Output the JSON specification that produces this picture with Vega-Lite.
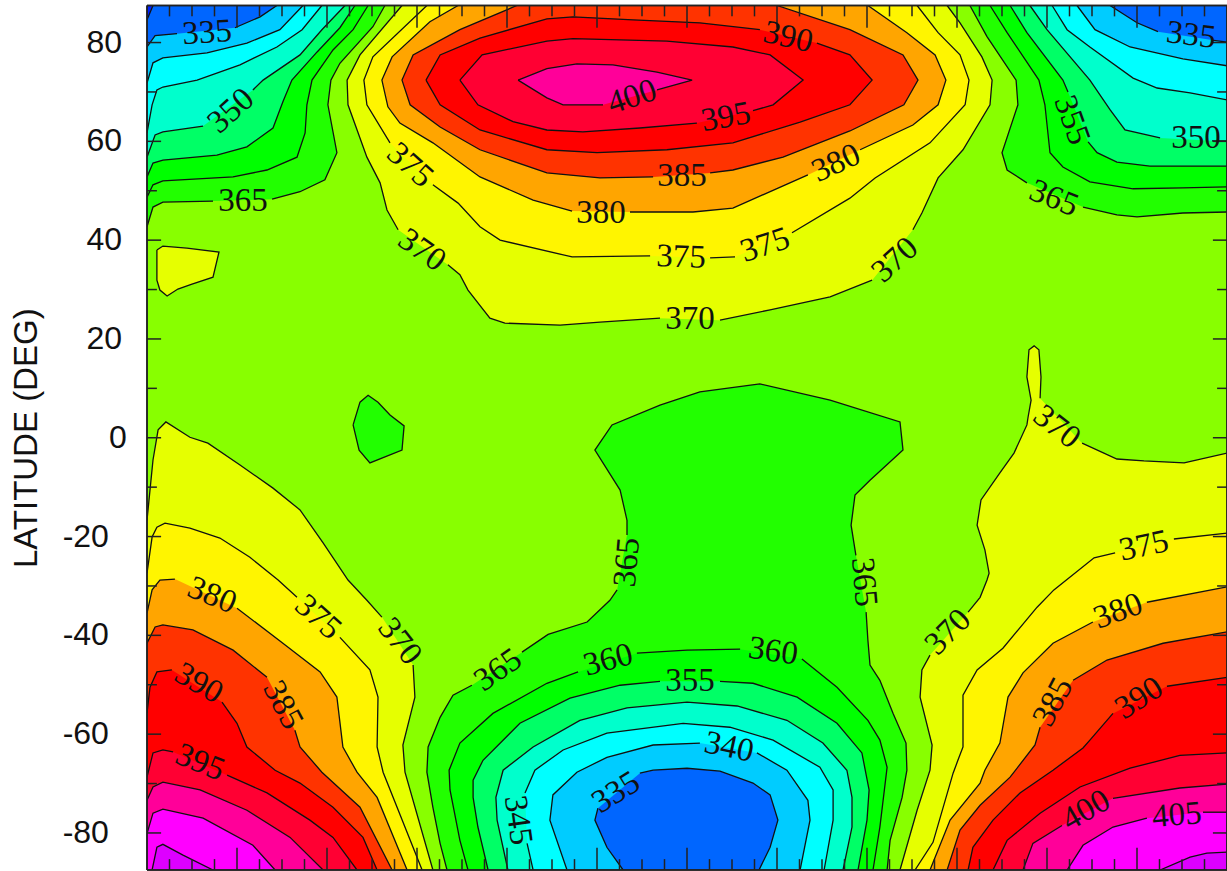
{"$schema":"https://vega.github.io/schema/vega-lite/v6.json","autosize":{"type":"none"},"padding":{"left":147,"top":5.5,"right":0,"bottom":1},"width":1080,"height":864.5,"background":"white","view":{"fill":"#88ff00","stroke":null},
"datasets":{"poly":[
{"p":"S365","s":1,"lon":100,"lat":-87.5},{"p":"S365","s":1,"lon":97.7,"lat":-82.1},{"p":"S365","s":1,"lon":95.3,"lat":-74.8},{"p":"S365","s":1,"lon":93.3,"lat":-67.7},{"p":"S365","s":1,"lon":93.7,"lat":-62.6},{"p":"S365","s":1,"lon":97.7,"lat":-56.6},{"p":"S365","s":1,"lon":102,"lat":-52.1},{"p":"S365","s":1,"lon":108.3,"lat":-50.1},
{"p":"S365","s":2,"lon":125,"lat":-43.4},{"p":"S365","s":2,"lon":133.7,"lat":-39.8},{"p":"S365","s":2,"lon":146.7,"lat":-37.3},{"p":"S365","s":2,"lon":154.3,"lat":-32.9},{"p":"S365","s":2,"lon":156.7,"lat":-30.8},
{"p":"S365","s":3,"lon":160,"lat":-19.7},{"p":"S365","s":3,"lon":160,"lat":-16.7},{"p":"S365","s":3,"lon":157.7,"lat":-10.6},{"p":"S365","s":3,"lon":149.3,"lat":-2.5},{"p":"S365","s":3,"lon":155,"lat":2.6},{"p":"S365","s":3,"lon":171,"lat":6.6},{"p":"S365","s":3,"lon":184.3,"lat":9.3},{"p":"S365","s":3,"lon":204.3,"lat":10.9},{"p":"S365","s":3,"lon":227.7,"lat":7.6},{"p":"S365","s":3,"lon":251,"lat":3.2},{"p":"S365","s":3,"lon":252,"lat":-2.5},{"p":"S365","s":3,"lon":241,"lat":-8.6},{"p":"S365","s":3,"lon":236,"lat":-11.6},{"p":"S365","s":3,"lon":234.7,"lat":-17.7},{"p":"S365","s":3,"lon":236.3,"lat":-23.8},
{"p":"S365","s":4,"lon":239.7,"lat":-35.3},{"p":"S365","s":4,"lon":240.3,"lat":-41},{"p":"S365","s":4,"lon":241,"lat":-46},{"p":"S365","s":4,"lon":244.3,"lat":-49.1},{"p":"S365","s":4,"lon":248.7,"lat":-55.8},{"p":"S365","s":4,"lon":253,"lat":-61.8},{"p":"S365","s":4,"lon":253.3,"lat":-67.3},{"p":"S365","s":4,"lon":251.7,"lat":-72.8},{"p":"S365","s":4,"lon":247.7,"lat":-81.5},{"p":"S365","s":4,"lon":246.7,"lat":-87.5},
{"p":"S360","s":5,"lon":107,"lat":-87.5},{"p":"S360","s":5,"lon":104.3,"lat":-81.5},{"p":"S360","s":5,"lon":101,"lat":-71.3},{"p":"S360","s":5,"lon":100.7,"lat":-67.3},{"p":"S360","s":5,"lon":104.3,"lat":-61.8},{"p":"S360","s":5,"lon":115.3,"lat":-55.8},{"p":"S360","s":5,"lon":133.3,"lat":-49.7},{"p":"S360","s":5,"lon":143.7,"lat":-47.4},
{"p":"S360","s":6,"lon":163.3,"lat":-43.6},{"p":"S360","s":6,"lon":180,"lat":-43},{"p":"S360","s":6,"lon":197.7,"lat":-42.8},
{"p":"S360","s":7,"lon":218.3,"lat":-44.8},{"p":"S360","s":7,"lon":230,"lat":-50.5},{"p":"S360","s":7,"lon":240.3,"lat":-57.2},{"p":"S360","s":7,"lon":244.3,"lat":-61.2},{"p":"S360","s":7,"lon":246.7,"lat":-66.7},{"p":"S360","s":7,"lon":244.3,"lat":-78.8},{"p":"S360","s":7,"lon":242,"lat":-87.5},
{"p":"S355","s":8,"lon":113.7,"lat":-87.5},{"p":"S355","s":8,"lon":110.3,"lat":-78.8},{"p":"S355","s":8,"lon":108.7,"lat":-72.8},{"p":"S355","s":8,"lon":108.7,"lat":-69.3},{"p":"S355","s":8,"lon":112,"lat":-65.3},{"p":"S355","s":8,"lon":124.3,"lat":-57.8},{"p":"S355","s":8,"lon":141,"lat":-52.7},{"p":"S355","s":8,"lon":157.7,"lat":-50.1},{"p":"S355","s":8,"lon":171,"lat":-49.3},
{"p":"S355","s":9,"lon":191,"lat":-49.3},{"p":"S355","s":9,"lon":202,"lat":-49.7},{"p":"S355","s":9,"lon":216.7,"lat":-52.5},{"p":"S355","s":9,"lon":230,"lat":-57.8},{"p":"S355","s":9,"lon":238.3,"lat":-63.8},{"p":"S355","s":9,"lon":240.7,"lat":-71.3},{"p":"S355","s":9,"lon":240,"lat":-77.4},{"p":"S355","s":9,"lon":237,"lat":-87.5},
{"p":"S350","s":10,"lon":120.3,"lat":-87.5},{"p":"S350","s":10,"lon":116.7,"lat":-77.4},{"p":"S350","s":10,"lon":116.3,"lat":-72.8},{"p":"S350","s":10,"lon":118.7,"lat":-67.3},{"p":"S350","s":10,"lon":128.7,"lat":-62.6},{"p":"S350","s":10,"lon":144.3,"lat":-57.2},{"p":"S350","s":10,"lon":160,"lat":-54.7},{"p":"S350","s":10,"lon":180,"lat":-53.5},{"p":"S350","s":10,"lon":196.7,"lat":-54.3},{"p":"S350","s":10,"lon":213.3,"lat":-57.2},{"p":"S350","s":10,"lon":225.3,"lat":-61.8},{"p":"S350","s":10,"lon":233.3,"lat":-67.3},{"p":"S350","s":10,"lon":235,"lat":-72.8},{"p":"S350","s":10,"lon":235,"lat":-78.8},{"p":"S350","s":10,"lon":232,"lat":-87.5},
{"p":"S345","s":11,"lon":128.7,"lat":-87.5},{"p":"S345","s":11,"lon":126.7,"lat":-82.1},
{"p":"S345","s":12,"lon":126,"lat":-71.9},{"p":"S345","s":12,"lon":129.3,"lat":-67.3},{"p":"S345","s":12,"lon":138.7,"lat":-63.2},{"p":"S345","s":12,"lon":153.3,"lat":-59.8},{"p":"S345","s":12,"lon":178.7,"lat":-57.8},{"p":"S345","s":12,"lon":194.3,"lat":-58.6},{"p":"S345","s":12,"lon":208.7,"lat":-61.2},{"p":"S345","s":12,"lon":224.3,"lat":-66.7},{"p":"S345","s":12,"lon":228.7,"lat":-71.3},{"p":"S345","s":12,"lon":228.7,"lat":-77.4},{"p":"S345","s":12,"lon":225.7,"lat":-87.5},
{"p":"S340","s":13,"lon":140,"lat":-87.5},{"p":"S340","s":13,"lon":134.3,"lat":-77.4},{"p":"S340","s":13,"lon":135.3,"lat":-72.3},{"p":"S340","s":13,"lon":143.3,"lat":-67.7},{"p":"S340","s":13,"lon":153.3,"lat":-64.7},{"p":"S340","s":13,"lon":168.7,"lat":-62.2},{"p":"S340","s":13,"lon":184.3,"lat":-61.8},
{"p":"S340","s":14,"lon":203.3,"lat":-63.8},{"p":"S340","s":14,"lon":213.3,"lat":-67.3},{"p":"S340","s":14,"lon":220.3,"lat":-73.4},{"p":"S340","s":14,"lon":221,"lat":-77.4},{"p":"S340","s":14,"lon":217.7,"lat":-87.5},
{"p":"S335","s":15,"lon":158.7,"lat":-87.5},{"p":"S335","s":15,"lon":153.3,"lat":-82.9},{"p":"S335","s":15,"lon":149.3,"lat":-77.4},{"p":"S335","s":15,"lon":150.3,"lat":-75},
{"p":"S335","s":16,"lon":164.3,"lat":-67.9},{"p":"S335","s":16,"lon":168.7,"lat":-67.3},{"p":"S335","s":16,"lon":180,"lat":-66.9},{"p":"S335","s":16,"lon":191,"lat":-67.5},{"p":"S335","s":16,"lon":202,"lat":-69.9},{"p":"S335","s":16,"lon":207.7,"lat":-72.3},{"p":"S335","s":16,"lon":210.3,"lat":-77.4},{"p":"S335","s":16,"lon":207.7,"lat":-82.9},{"p":"S335","s":16,"lon":204,"lat":-87.5},
{"p":"BG","s":17,"lon":68.7,"lat":2.6},{"p":"BG","s":17,"lon":71,"lat":7.2},{"p":"BG","s":17,"lon":73.7,"lat":8.6},{"p":"BG","s":17,"lon":77,"lat":7.2},{"p":"BG","s":17,"lon":81,"lat":4.6},{"p":"BG","s":17,"lon":85.7,"lat":2.4},{"p":"BG","s":17,"lon":85,"lat":-2.5},{"p":"BG","s":17,"lon":74.3,"lat":-5.1},{"p":"BG","s":17,"lon":70.7,"lat":-2.5},{"p":"BG","s":17,"lon":68.7,"lat":2.6},
{"p":"BY","s":18,"lon":3.3,"lat":38},{"p":"BY","s":18,"lon":5.3,"lat":38.8},{"p":"BY","s":18,"lon":13.3,"lat":38.4},{"p":"BY","s":18,"lon":24,"lat":37.6},{"p":"BY","s":18,"lon":22,"lat":32.5},{"p":"BY","s":18,"lon":15,"lat":31.1},{"p":"BY","s":18,"lon":10.3,"lat":30.1},{"p":"BY","s":18,"lon":6.7,"lat":28.7},{"p":"BY","s":18,"lon":4.3,"lat":29.9},{"p":"BY","s":18,"lon":3.3,"lat":31.9},{"p":"BY","s":18,"lon":3.3,"lat":38},
{"p":"SW370","s":19,"lon":0,"lat":-16.7},{"p":"SW370","s":19,"lon":2,"lat":-4.5},{"p":"SW370","s":19,"lon":3.7,"lat":1.6},{"p":"SW370","s":19,"lon":6.3,"lat":3.2},{"p":"SW370","s":19,"lon":14.3,"lat":0.1},{"p":"SW370","s":19,"lon":20.3,"lat":-1.1},{"p":"SW370","s":19,"lon":31,"lat":-5.5},{"p":"SW370","s":19,"lon":42,"lat":-10.2},{"p":"SW370","s":19,"lon":51,"lat":-14.6},{"p":"SW370","s":19,"lon":58.7,"lat":-21.3},{"p":"SW370","s":19,"lon":67,"lat":-28.8},{"p":"SW370","s":19,"lon":73.3,"lat":-32.9},{"p":"SW370","s":19,"lon":78.3,"lat":-36.3},
{"p":"SW370","s":20,"lon":88.7,"lat":-46},{"p":"SW370","s":20,"lon":89.3,"lat":-52.5},{"p":"SW370","s":20,"lon":85.3,"lat":-62.2},{"p":"SW370","s":20,"lon":86,"lat":-67.7},{"p":"SW370","s":20,"lon":95.3,"lat":-87.5},{"p":"SW370","lon":0,"lat":-87.5},
{"p":"SW375","s":21,"lon":0,"lat":-27.4},{"p":"SW375","s":21,"lon":1.7,"lat":-20.1},{"p":"SW375","s":21,"lon":3.3,"lat":-18.1},{"p":"SW375","s":21,"lon":6,"lat":-17.3},{"p":"SW375","s":21,"lon":14.3,"lat":-18.3},{"p":"SW375","s":21,"lon":24.3,"lat":-20.3},{"p":"SW375","s":21,"lon":34.3,"lat":-24.2},{"p":"SW375","s":21,"lon":43.7,"lat":-28.8},{"p":"SW375","s":21,"lon":50,"lat":-32.3},
{"p":"SW375","s":22,"lon":64.3,"lat":-40.4},{"p":"SW375","s":22,"lon":74.3,"lat":-47},{"p":"SW375","s":22,"lon":77,"lat":-52.5},{"p":"SW375","s":22,"lon":76.7,"lat":-62.6},{"p":"SW375","s":22,"lon":78.7,"lat":-67.7},{"p":"SW375","s":22,"lon":91.7,"lat":-87.5},{"p":"SW375","lon":0,"lat":-87.5},
{"p":"SW380","s":23,"lon":0,"lat":-35.5},{"p":"SW380","s":23,"lon":1.7,"lat":-30.8},{"p":"SW380","s":23,"lon":4.3,"lat":-28.8},{"p":"SW380","s":23,"lon":9.3,"lat":-28.6},
{"p":"SW380","s":24,"lon":30,"lat":-34.5},{"p":"SW380","s":24,"lon":45.3,"lat":-41.6},{"p":"SW380","s":24,"lon":57.7,"lat":-47.4},{"p":"SW380","s":24,"lon":63.3,"lat":-52.5},{"p":"SW380","s":24,"lon":65.3,"lat":-62.6},{"p":"SW380","s":24,"lon":70,"lat":-67.7},{"p":"SW380","s":24,"lon":76.7,"lat":-72.8},{"p":"SW380","s":24,"lon":86.7,"lat":-87.5},{"p":"SW380","lon":0,"lat":-87.5},
{"p":"SW385","s":25,"lon":0,"lat":-41.6},{"p":"SW385","s":25,"lon":2.7,"lat":-38.3},{"p":"SW385","s":25,"lon":5.3,"lat":-37.9},{"p":"SW385","s":25,"lon":15.3,"lat":-38.9},{"p":"SW385","s":25,"lon":28.7,"lat":-43},{"p":"SW385","s":25,"lon":40,"lat":-48.5},
{"p":"SW385","s":26,"lon":49.3,"lat":-59.2},{"p":"SW385","s":26,"lon":51,"lat":-62.6},{"p":"SW385","s":26,"lon":58.3,"lat":-67.7},{"p":"SW385","s":26,"lon":71,"lat":-74.8},{"p":"SW385","s":26,"lon":81.7,"lat":-87.5},{"p":"SW385","lon":0,"lat":-87.5},
{"p":"SW390","s":27,"lon":0,"lat":-55.7},{"p":"SW390","s":27,"lon":1,"lat":-50.5},{"p":"SW390","s":27,"lon":3.3,"lat":-47.4},{"p":"SW390","s":27,"lon":8.3,"lat":-47},
{"p":"SW390","s":28,"lon":25,"lat":-53.5},{"p":"SW390","s":28,"lon":30,"lat":-57.8},{"p":"SW390","s":28,"lon":33.3,"lat":-62.6},{"p":"SW390","s":28,"lon":42.7,"lat":-67.3},{"p":"SW390","s":28,"lon":51,"lat":-69.9},{"p":"SW390","s":28,"lon":62,"lat":-74.8},{"p":"SW390","s":28,"lon":72,"lat":-80.9},{"p":"SW390","s":28,"lon":76.7,"lat":-87.5},{"p":"SW390","lon":0,"lat":-87.5},
{"p":"SW395","s":29,"lon":0,"lat":-68.7},{"p":"SW395","s":29,"lon":2,"lat":-63.8},{"p":"SW395","s":29,"lon":5.3,"lat":-63.2},{"p":"SW395","s":29,"lon":8.7,"lat":-63.6},
{"p":"SW395","s":30,"lon":26.7,"lat":-68.3},{"p":"SW395","s":30,"lon":40,"lat":-71.9},{"p":"SW395","s":30,"lon":54.3,"lat":-77.4},{"p":"SW395","s":30,"lon":62,"lat":-80.9},{"p":"SW395","s":30,"lon":70,"lat":-87.5},{"p":"SW395","lon":0,"lat":-87.5},
{"p":"SW400","s":31,"lon":0,"lat":-73.4},{"p":"SW400","s":31,"lon":2,"lat":-70.7},{"p":"SW400","s":31,"lon":5.3,"lat":-69.7},{"p":"SW400","s":31,"lon":17.7,"lat":-71.3},{"p":"SW400","s":31,"lon":33.3,"lat":-75.4},{"p":"SW400","s":31,"lon":47.7,"lat":-80.9},{"p":"SW400","s":31,"lon":58.7,"lat":-87.5},{"p":"SW400","lon":0,"lat":-87.5},
{"p":"SW405","s":32,"lon":0,"lat":-80.1},{"p":"SW405","s":32,"lon":2,"lat":-76},{"p":"SW405","s":32,"lon":5.3,"lat":-75.2},{"p":"SW405","s":32,"lon":18.7,"lat":-77},{"p":"SW405","s":32,"lon":35.3,"lat":-82.5},{"p":"SW405","s":32,"lon":42.7,"lat":-87.5},{"p":"SW405","lon":0,"lat":-87.5},
{"p":"SW410","s":33,"lon":1.7,"lat":-87.5},{"p":"SW410","s":33,"lon":3.3,"lat":-82.9},{"p":"SW410","s":33,"lon":5.3,"lat":-82.3},{"p":"SW410","s":33,"lon":12,"lat":-84.5},{"p":"SW410","s":33,"lon":22,"lat":-87.5},
{"p":"SE370","s":34,"lon":251,"lat":-87.5},{"p":"SE370","s":34,"lon":256.7,"lat":-75.4},{"p":"SE370","s":34,"lon":261,"lat":-67.3},{"p":"SE370","s":34,"lon":261.7,"lat":-62.2},{"p":"SE370","s":34,"lon":257.7,"lat":-52.5},{"p":"SE370","s":34,"lon":258.3,"lat":-47},{"p":"SE370","s":34,"lon":261,"lat":-44},
{"p":"SE370","s":35,"lon":273.7,"lat":-35.3},{"p":"SE370","s":35,"lon":277.7,"lat":-32.3},{"p":"SE370","s":35,"lon":280,"lat":-28.8},{"p":"SE370","s":35,"lon":280.7,"lat":-27.4},{"p":"SE370","s":35,"lon":279.3,"lat":-22.7},{"p":"SE370","s":35,"lon":276.7,"lat":-17.7},{"p":"SE370","s":35,"lon":278,"lat":-12.6},{"p":"SE370","s":35,"lon":284.3,"lat":-7.1},{"p":"SE370","s":35,"lon":289,"lat":-3.1},{"p":"SE370","s":35,"lon":293.3,"lat":2.6},{"p":"SE370","s":35,"lon":293.7,"lat":4.2},{"p":"SE370","s":35,"lon":294.7,"lat":7.6},{"p":"SE370","s":35,"lon":293.3,"lat":12.3},{"p":"SE370","s":35,"lon":294,"lat":17.8},{"p":"SE370","s":35,"lon":295.7,"lat":18.6},{"p":"SE370","s":35,"lon":297.3,"lat":17.8},{"p":"SE370","s":35,"lon":298,"lat":12.3},{"p":"SE370","s":35,"lon":297.7,"lat":8},
{"p":"SE370","s":36,"lon":311.7,"lat":-1.1},{"p":"SE370","s":36,"lon":323.3,"lat":-4.3},{"p":"SE370","s":36,"lon":332.3,"lat":-4.7},{"p":"SE370","s":36,"lon":345.7,"lat":-5.1},{"p":"SE370","s":36,"lon":360,"lat":-3.1},{"p":"SE370","lon":360,"lat":-87.5},
{"p":"SE375","s":37,"lon":256,"lat":-87.5},{"p":"SE375","s":37,"lon":262,"lat":-81.9},{"p":"SE375","s":37,"lon":268.7,"lat":-67.9},{"p":"SE375","s":37,"lon":270.3,"lat":-65.3},{"p":"SE375","s":37,"lon":272,"lat":-62.6},{"p":"SE375","s":37,"lon":272,"lat":-52.1},{"p":"SE375","s":37,"lon":276.7,"lat":-47},{"p":"SE375","s":37,"lon":285.3,"lat":-42.6},{"p":"SE375","s":37,"lon":296.7,"lat":-34.3},{"p":"SE375","s":37,"lon":302.3,"lat":-30.8},{"p":"SE375","s":37,"lon":315.7,"lat":-24.3},{"p":"SE375","s":37,"lon":322.7,"lat":-23.3},
{"p":"SE375","s":38,"lon":342.3,"lat":-20.5},{"p":"SE375","s":38,"lon":360,"lat":-19.3},{"p":"SE375","lon":360,"lat":-87.5},
{"p":"SE380","s":39,"lon":261,"lat":-87.5},{"p":"SE380","s":39,"lon":267.7,"lat":-77.4},{"p":"SE380","s":39,"lon":277.7,"lat":-69.9},{"p":"SE380","s":39,"lon":279.3,"lat":-67.3},{"p":"SE380","s":39,"lon":284.3,"lat":-61.8},{"p":"SE380","s":39,"lon":287,"lat":-52.5},{"p":"SE380","s":39,"lon":292,"lat":-47.6},{"p":"SE380","s":39,"lon":302,"lat":-41.6},{"p":"SE380","s":39,"lon":315.3,"lat":-37.3},
{"p":"SE380","s":40,"lon":333.3,"lat":-33.3},{"p":"SE380","s":40,"lon":360,"lat":-30.2},{"p":"SE380","lon":360,"lat":-87.5},
{"p":"SE385","s":41,"lon":266.7,"lat":-87.5},{"p":"SE385","s":41,"lon":271,"lat":-79.4},{"p":"SE385","s":41,"lon":277.7,"lat":-74.4},{"p":"SE385","s":41,"lon":287.7,"lat":-68.7},{"p":"SE385","s":41,"lon":296,"lat":-62.2},{"p":"SE385","s":41,"lon":297.7,"lat":-58.6},
{"p":"SE385","s":42,"lon":308.7,"lat":-49.1},{"p":"SE385","s":42,"lon":320,"lat":-45},{"p":"SE385","s":42,"lon":338.7,"lat":-41.6},{"p":"SE385","s":42,"lon":360,"lat":-39.3},{"p":"SE385","lon":360,"lat":-87.5},
{"p":"SE390","s":43,"lon":273.7,"lat":-87.5},{"p":"SE390","s":43,"lon":275.3,"lat":-82.9},{"p":"SE390","s":43,"lon":282,"lat":-77.4},{"p":"SE390","s":43,"lon":291,"lat":-71.9},{"p":"SE390","s":43,"lon":302,"lat":-67.3},{"p":"SE390","s":43,"lon":312,"lat":-62.8},{"p":"SE390","s":43,"lon":314.3,"lat":-61.2},{"p":"SE390","s":43,"lon":322,"lat":-55.8},
{"p":"SE390","s":44,"lon":340,"lat":-50.3},{"p":"SE390","s":44,"lon":360,"lat":-48.5},{"p":"SE390","lon":360,"lat":-87.5},
{"p":"SE395","s":45,"lon":282,"lat":-87.5},{"p":"SE395","s":45,"lon":286.7,"lat":-81.5},{"p":"SE395","s":45,"lon":297.7,"lat":-76},{"p":"SE395","s":45,"lon":311,"lat":-70.7},{"p":"SE395","s":45,"lon":327.7,"lat":-66.9},{"p":"SE395","s":45,"lon":344.3,"lat":-64.3},{"p":"SE395","s":45,"lon":360,"lat":-63.8},{"p":"SE395","lon":360,"lat":-87.5},
{"p":"SE400","s":46,"lon":292,"lat":-87.5},{"p":"SE400","s":46,"lon":295.3,"lat":-82.1},{"p":"SE400","s":46,"lon":305,"lat":-78.5},
{"p":"SE400","s":47,"lon":322,"lat":-73},{"p":"SE400","s":47,"lon":344.3,"lat":-70.9},{"p":"SE400","s":47,"lon":360,"lat":-70.1},{"p":"SE400","lon":360,"lat":-87.5},
{"p":"SE405","s":48,"lon":306.7,"lat":-87.5},{"p":"SE405","s":48,"lon":312,"lat":-82.5},{"p":"SE405","s":48,"lon":322,"lat":-78.8},{"p":"SE405","s":48,"lon":333.3,"lat":-77},
{"p":"SE405","s":49,"lon":352,"lat":-75.8},{"p":"SE405","s":49,"lon":360,"lat":-75.8},{"p":"SE405","lon":360,"lat":-87.5},
{"p":"SE410","s":50,"lon":337.7,"lat":-87.5},{"p":"SE410","s":50,"lon":347.7,"lat":-84.9},{"p":"SE410","s":50,"lon":353.3,"lat":-84.1},{"p":"SE410","s":50,"lon":360,"lat":-83.9},{"p":"SE410","lon":360,"lat":-87.5},
{"p":"N370","s":51,"lon":85,"lat":87.5},{"p":"N370","s":51,"lon":71,"lat":77.5},{"p":"N370","s":51,"lon":66.7,"lat":72.4},{"p":"N370","s":51,"lon":67,"lat":67.4},{"p":"N370","s":51,"lon":73.3,"lat":56.8},{"p":"N370","s":51,"lon":77.7,"lat":51.6},{"p":"N370","s":51,"lon":80,"lat":46.1},{"p":"N370","s":51,"lon":83.7,"lat":42.1},
{"p":"N370","s":52,"lon":100.3,"lat":35},{"p":"N370","s":52,"lon":104.3,"lat":33},{"p":"N370","s":52,"lon":107,"lat":29.9},{"p":"N370","s":52,"lon":114.3,"lat":24.2},{"p":"N370","s":52,"lon":119.3,"lat":23.2},{"p":"N370","s":52,"lon":137.7,"lat":22.8},{"p":"N370","s":52,"lon":151,"lat":23.4},{"p":"N370","s":52,"lon":171,"lat":24.2},
{"p":"N370","s":53,"lon":191,"lat":23.8},{"p":"N370","s":53,"lon":207.7,"lat":25.9},{"p":"N370","s":53,"lon":227.7,"lat":28.5},{"p":"N370","s":53,"lon":241.7,"lat":31.9},
{"p":"N370","s":54,"lon":255.3,"lat":42.1},{"p":"N370","s":54,"lon":258.3,"lat":45.5},{"p":"N370","s":54,"lon":263.7,"lat":52.6},{"p":"N370","s":54,"lon":272,"lat":58.3},{"p":"N370","s":54,"lon":281,"lat":67.4},{"p":"N370","s":54,"lon":281.7,"lat":72.4},{"p":"N370","s":54,"lon":278.3,"lat":77.1},{"p":"N370","s":54,"lon":271,"lat":84},{"p":"N370","s":54,"lon":266.7,"lat":87.5},
{"p":"N375","s":55,"lon":93.3,"lat":87.5},{"p":"N375","s":55,"lon":75.3,"lat":77.1},{"p":"N375","s":55,"lon":72.3,"lat":72.4},{"p":"N375","s":55,"lon":73.3,"lat":67.4},{"p":"N375","s":55,"lon":81,"lat":59.7},
{"p":"N375","s":56,"lon":95.3,"lat":51.2},{"p":"N375","s":56,"lon":103.7,"lat":47.5},{"p":"N375","s":56,"lon":111,"lat":42.7},{"p":"N375","s":56,"lon":117.7,"lat":40},{"p":"N375","s":56,"lon":141.7,"lat":36.6},{"p":"N375","s":56,"lon":167.7,"lat":36.8},
{"p":"N375","s":57,"lon":187.7,"lat":36.4},{"p":"N375","s":57,"lon":196,"lat":36.6},
{"p":"N375","s":58,"lon":215,"lat":41.5},{"p":"N375","s":58,"lon":234.3,"lat":48.5},{"p":"N375","s":58,"lon":242.7,"lat":52.6},{"p":"N375","s":58,"lon":261,"lat":59.7},{"p":"N375","s":58,"lon":272.7,"lat":67.4},{"p":"N375","s":58,"lon":274,"lat":72.4},{"p":"N375","s":58,"lon":271,"lat":77.5},{"p":"N375","s":58,"lon":263.7,"lat":82},{"p":"N375","s":58,"lon":256.7,"lat":87.5},
{"p":"N380","s":59,"lon":103.7,"lat":87.5},{"p":"N380","s":59,"lon":94.3,"lat":84.2},{"p":"N380","s":59,"lon":81.7,"lat":77.1},{"p":"N380","s":59,"lon":78.3,"lat":72.4},{"p":"N380","s":59,"lon":80.3,"lat":67},{"p":"N380","s":59,"lon":84.3,"lat":63.7},{"p":"N380","s":59,"lon":95.3,"lat":59.7},{"p":"N380","s":59,"lon":111,"lat":52.8},{"p":"N380","s":59,"lon":128.7,"lat":48.1},{"p":"N380","s":59,"lon":141.7,"lat":45.9},
{"p":"N380","s":60,"lon":161,"lat":45.7},{"p":"N380","s":60,"lon":182,"lat":45.7},{"p":"N380","s":60,"lon":195.3,"lat":46.5},{"p":"N380","s":60,"lon":220.3,"lat":53.2},
{"p":"N380","s":61,"lon":237.7,"lat":58.3},{"p":"N380","s":61,"lon":255.3,"lat":63.3},{"p":"N380","s":61,"lon":263.7,"lat":67.4},{"p":"N380","s":61,"lon":266.3,"lat":72.4},{"p":"N380","s":61,"lon":262.7,"lat":77.5},{"p":"N380","s":61,"lon":253.3,"lat":82},{"p":"N380","s":61,"lon":240.3,"lat":87.5},
{"p":"N385","s":62,"lon":123.3,"lat":87.5},{"p":"N385","s":62,"lon":104.3,"lat":82.6},{"p":"N385","s":62,"lon":88.7,"lat":77.5},{"p":"N385","s":62,"lon":85,"lat":72.4},{"p":"N385","s":62,"lon":87.7,"lat":67.4},{"p":"N385","s":62,"lon":97.7,"lat":62.9},{"p":"N385","s":62,"lon":111,"lat":58.3},{"p":"N385","s":62,"lon":133.3,"lat":53.6},{"p":"N385","s":62,"lon":151,"lat":52.6},{"p":"N385","s":62,"lon":168.7,"lat":52.8},
{"p":"N385","s":63,"lon":187.7,"lat":53.6},{"p":"N385","s":63,"lon":195.3,"lat":54.2},{"p":"N385","s":63,"lon":212,"lat":56.8},{"p":"N385","s":63,"lon":234.3,"lat":62.1},{"p":"N385","s":63,"lon":252.3,"lat":67.4},{"p":"N385","s":63,"lon":257,"lat":72.4},{"p":"N385","s":63,"lon":252,"lat":77.5},{"p":"N385","s":63,"lon":234.3,"lat":82.6},{"p":"N385","s":63,"lon":210,"lat":87.5},
{"p":"N390","s":64,"lon":93,"lat":72.4},{"p":"N390","s":64,"lon":97.7,"lat":77.5},{"p":"N390","s":64,"lon":111,"lat":80.9},{"p":"N390","s":64,"lon":133.3,"lat":84.8},{"p":"N390","s":64,"lon":142,"lat":85.2},{"p":"N390","s":64,"lon":162,"lat":84.6},{"p":"N390","s":64,"lon":184.3,"lat":84},{"p":"N390","s":64,"lon":204.3,"lat":82.6},
{"p":"N390","s":65,"lon":223.3,"lat":79.9},{"p":"N390","s":65,"lon":234.3,"lat":77.5},{"p":"N390","s":65,"lon":241.7,"lat":72.4},{"p":"N390","s":65,"lon":234.3,"lat":67.4},{"p":"N390","s":65,"lon":217.7,"lat":63.9},{"p":"N390","s":65,"lon":195.3,"lat":59.7},{"p":"N390","s":65,"lon":173.3,"lat":58.3},{"p":"N390","s":65,"lon":150,"lat":57.7},{"p":"N390","s":65,"lon":133.3,"lat":58.3},{"p":"N390","s":65,"lon":111,"lat":62.3},{"p":"N390","s":65,"lon":97.7,"lat":67.4},{"p":"N390","s":65,"lon":93,"lat":72.4},
{"p":"N395","s":66,"lon":104.3,"lat":72.4},{"p":"N395","s":66,"lon":111.7,"lat":77.5},{"p":"N395","s":66,"lon":133.3,"lat":80.3},{"p":"N395","s":66,"lon":142,"lat":80.8},{"p":"N395","s":66,"lon":173.3,"lat":80.3},{"p":"N395","s":66,"lon":195.3,"lat":79.1},{"p":"N395","s":66,"lon":207.7,"lat":77.5},{"p":"N395","s":66,"lon":218.7,"lat":72.4},{"p":"N395","s":66,"lon":208.7,"lat":67.4},{"p":"N395","s":66,"lon":202,"lat":66.2},
{"p":"N395","s":67,"lon":183.3,"lat":63.7},{"p":"N395","s":67,"lon":164.3,"lat":62.7},{"p":"N395","s":67,"lon":145.3,"lat":61.9},{"p":"N395","s":67,"lon":133.3,"lat":62.3},{"p":"N395","s":67,"lon":122,"lat":64},{"p":"N395","s":67,"lon":110.3,"lat":67.4},{"p":"N395","s":67,"lon":104.3,"lat":72.4},
{"p":"N400","s":68,"lon":123.7,"lat":72.4},{"p":"N400","s":68,"lon":133.3,"lat":74.7},{"p":"N400","s":68,"lon":143.3,"lat":75.7},{"p":"N400","s":68,"lon":155.3,"lat":75.5},{"p":"N400","s":68,"lon":170,"lat":74},{"p":"N400","s":68,"lon":181.7,"lat":72.4},{"p":"N400","s":68,"lon":170,"lat":70.4},
{"p":"N400","s":69,"lon":152,"lat":67.4},{"p":"N400","s":69,"lon":138.7,"lat":67.4},{"p":"N400","s":69,"lon":133.3,"lat":68.8},{"p":"N400","s":69,"lon":123.7,"lat":72.4},
{"p":"NW365","s":70,"lon":0,"lat":42.7},{"p":"NW365","s":70,"lon":2,"lat":46.7},{"p":"NW365","s":70,"lon":5.3,"lat":47.7},{"p":"NW365","s":70,"lon":22,"lat":47.9},
{"p":"NW365","s":71,"lon":41.7,"lat":48.3},{"p":"NW365","s":71,"lon":51,"lat":49.8},{"p":"NW365","s":71,"lon":59.3,"lat":52.2},{"p":"NW365","s":71,"lon":63.3,"lat":57.7},{"p":"NW365","s":71,"lon":60.3,"lat":67.4},{"p":"NW365","s":71,"lon":61.3,"lat":72.4},{"p":"NW365","s":71,"lon":64.3,"lat":75.8},{"p":"NW365","s":71,"lon":75.3,"lat":83.2},{"p":"NW365","s":71,"lon":79.3,"lat":87.5},{"p":"NW365","lon":0,"lat":87.5},
{"p":"NW360","s":72,"lon":0,"lat":48.7},{"p":"NW360","s":72,"lon":2,"lat":51.2},{"p":"NW360","s":72,"lon":5.3,"lat":52},{"p":"NW360","s":72,"lon":28.7,"lat":52.8},{"p":"NW360","s":72,"lon":40,"lat":54.2},{"p":"NW360","s":72,"lon":50,"lat":56.8},{"p":"NW360","s":72,"lon":52.7,"lat":61.7},{"p":"NW360","s":72,"lon":53.3,"lat":67.4},{"p":"NW360","s":72,"lon":55,"lat":72.4},{"p":"NW360","s":72,"lon":62,"lat":78.5},{"p":"NW360","s":72,"lon":68.7,"lat":82.6},{"p":"NW360","s":72,"lon":73.7,"lat":87.5},{"p":"NW360","lon":0,"lat":87.5},
{"p":"NW355","s":73,"lon":0,"lat":52.8},{"p":"NW355","s":73,"lon":2,"lat":55.6},{"p":"NW355","s":73,"lon":5.3,"lat":56.2},{"p":"NW355","s":73,"lon":23.3,"lat":57.2},{"p":"NW355","s":73,"lon":33.3,"lat":58.9},{"p":"NW355","s":73,"lon":42,"lat":62.7},{"p":"NW355","s":73,"lon":45.3,"lat":68},{"p":"NW355","s":73,"lon":48.3,"lat":72.4},{"p":"NW355","s":73,"lon":56.7,"lat":78.1},{"p":"NW355","s":73,"lon":64.3,"lat":83},{"p":"NW355","s":73,"lon":69.3,"lat":87.5},{"p":"NW355","lon":0,"lat":87.5},
{"p":"NW350","s":74,"lon":0,"lat":56.8},{"p":"NW350","s":74,"lon":2.7,"lat":61.3},{"p":"NW350","s":74,"lon":5.3,"lat":61.9},{"p":"NW350","s":74,"lon":18.7,"lat":63.1},
{"p":"NW350","s":75,"lon":35.3,"lat":70.4},{"p":"NW350","s":75,"lon":38.7,"lat":72.4},{"p":"NW350","s":75,"lon":51,"lat":77.5},{"p":"NW350","s":75,"lon":58.3,"lat":82.6},{"p":"NW350","s":75,"lon":66,"lat":87.5},{"p":"NW350","lon":0,"lat":87.5},
{"p":"NW345","s":76,"lon":0,"lat":61.7},{"p":"NW345","s":76,"lon":1.7,"lat":67.4},{"p":"NW345","s":76,"lon":3.3,"lat":70.4},{"p":"NW345","s":76,"lon":5.3,"lat":71},{"p":"NW345","s":76,"lon":16.7,"lat":72.4},{"p":"NW345","s":76,"lon":31,"lat":75.5},{"p":"NW345","s":76,"lon":43.3,"lat":79.1},{"p":"NW345","s":76,"lon":51.7,"lat":82.6},{"p":"NW345","s":76,"lon":58.3,"lat":87.5},{"p":"NW345","lon":0,"lat":87.5},
{"p":"NW340","s":77,"lon":0,"lat":71.8},{"p":"NW340","s":77,"lon":2,"lat":75.9},{"p":"NW340","s":77,"lon":5.3,"lat":76.9},{"p":"NW340","s":77,"lon":20,"lat":77.9},{"p":"NW340","s":77,"lon":33.3,"lat":79.9},{"p":"NW340","s":77,"lon":44.3,"lat":82.6},{"p":"NW340","s":77,"lon":52,"lat":87.5},{"p":"NW340","lon":0,"lat":87.5},
{"p":"NW335","s":78,"lon":0,"lat":79.1},{"p":"NW335","s":78,"lon":2.7,"lat":81.4},{"p":"NW335","s":78,"lon":10,"lat":81.8},
{"p":"NW335","s":79,"lon":29.3,"lat":83},{"p":"NW335","s":79,"lon":37.7,"lat":85.2},{"p":"NW335","s":79,"lon":43.3,"lat":87.5},{"p":"NW335","lon":0,"lat":87.5},
{"p":"NW330","s":80,"lon":0,"lat":84.6},{"p":"NW330","s":80,"lon":2,"lat":87.5},{"p":"NW330","lon":0,"lat":87.5},
{"p":"NE365","s":81,"lon":274.3,"lat":87.5},{"p":"NE365","s":81,"lon":280,"lat":81.2},{"p":"NE365","s":81,"lon":289.7,"lat":72.4},{"p":"NE365","s":81,"lon":290.3,"lat":67.4},{"p":"NE365","s":81,"lon":285,"lat":57.7},{"p":"NE365","s":81,"lon":286.7,"lat":54.2},{"p":"NE365","s":81,"lon":293.3,"lat":51.6},
{"p":"NE365","s":82,"lon":312,"lat":46.7},{"p":"NE365","s":82,"lon":323.3,"lat":45.1},{"p":"NE365","s":82,"lon":330,"lat":44.7},{"p":"NE365","s":82,"lon":345.3,"lat":45.5},{"p":"NE365","s":82,"lon":360,"lat":45.7},{"p":"NE365","lon":360,"lat":87.5},
{"p":"NE360","s":83,"lon":281,"lat":87.5},{"p":"NE360","s":83,"lon":286.7,"lat":82},{"p":"NE360","s":83,"lon":297.3,"lat":72.4},{"p":"NE360","s":83,"lon":299.3,"lat":67.4},{"p":"NE360","s":83,"lon":301,"lat":57.7},{"p":"NE360","s":83,"lon":305.3,"lat":54.8},{"p":"NE360","s":83,"lon":314.3,"lat":51.8},{"p":"NE360","s":83,"lon":328.7,"lat":50.4},{"p":"NE360","s":83,"lon":345.3,"lat":50.6},{"p":"NE360","s":83,"lon":360,"lat":50.8},{"p":"NE360","lon":360,"lat":87.5},
{"p":"NE355","s":84,"lon":287.7,"lat":87.5},{"p":"NE355","s":84,"lon":293.3,"lat":82},{"p":"NE355","s":84,"lon":305.3,"lat":72.4},{"p":"NE355","s":84,"lon":307,"lat":70},
{"p":"NE355","s":85,"lon":313.7,"lat":59.9},{"p":"NE355","s":85,"lon":316.7,"lat":57.7},{"p":"NE355","s":85,"lon":323.3,"lat":55.8},{"p":"NE355","s":85,"lon":334.3,"lat":55},{"p":"NE355","s":85,"lon":345.3,"lat":55},{"p":"NE355","s":85,"lon":360,"lat":55},{"p":"NE355","lon":360,"lat":87.5},
{"p":"NE350","s":86,"lon":294.3,"lat":87.5},{"p":"NE350","s":86,"lon":300,"lat":82.6},{"p":"NE350","s":86,"lon":314.3,"lat":72.4},{"p":"NE350","s":86,"lon":321,"lat":66.4},{"p":"NE350","s":86,"lon":326,"lat":62.3},{"p":"NE350","s":86,"lon":337.7,"lat":60.7},
{"p":"NE350","s":87,"lon":355,"lat":60.1},{"p":"NE350","s":87,"lon":360,"lat":60.1},{"p":"NE350","lon":360,"lat":87.5},
{"p":"NE345","s":88,"lon":301.7,"lat":87.5},{"p":"NE345","s":88,"lon":306.7,"lat":82.6},{"p":"NE345","s":88,"lon":314.3,"lat":79.1},{"p":"NE345","s":88,"lon":328.7,"lat":72.8},{"p":"NE345","s":88,"lon":336.7,"lat":70.8},{"p":"NE345","s":88,"lon":347.7,"lat":69.8},{"p":"NE345","s":88,"lon":360,"lat":68.4},{"p":"NE345","lon":360,"lat":87.5},
{"p":"NE340","s":89,"lon":310,"lat":87.5},{"p":"NE340","s":89,"lon":316,"lat":82.6},{"p":"NE340","s":89,"lon":327.7,"lat":79.1},{"p":"NE340","s":89,"lon":345.3,"lat":76.7},{"p":"NE340","s":89,"lon":360,"lat":75.3},{"p":"NE340","lon":360,"lat":87.5},
{"p":"NE335","s":90,"lon":321,"lat":87.5},{"p":"NE335","s":90,"lon":330,"lat":84},{"p":"NE335","s":90,"lon":337,"lat":82.2},
{"p":"NE335","s":91,"lon":355,"lat":80.5},{"p":"NE335","s":91,"lon":360,"lat":80.1},{"p":"NE335","lon":360,"lat":87.5}
],
"labels":[
{"t":"335","lon":20,"lat":82,"a":-4},{"t":"350","lon":28,"lat":66.2,"a":-42},{"t":"365","lon":32,"lat":47.9,"a":0},{"t":"375","lon":87.7,"lat":55.2,"a":42},{"t":"370","lon":91.7,"lat":38,"a":35},{"t":"380","lon":151.3,"lat":45.5,"a":0},{"t":"375","lon":178,"lat":36.6,"a":2},{"t":"375","lon":206,"lat":39,"a":-18},{"t":"370","lon":181,"lat":24,"a":0},{"t":"385","lon":178.3,"lat":53,"a":0},{"t":"380","lon":229.7,"lat":55.6,"a":-25},{"t":"395","lon":193,"lat":64.9,"a":-10},{"t":"400","lon":161.7,"lat":69,"a":-18},{"t":"390","lon":213.7,"lat":81.1,"a":13},{"t":"335","lon":348,"lat":81.5,"a":7},{"t":"355","lon":308.3,"lat":64.3,"a":70},{"t":"350","lon":349.7,"lat":60.7,"a":0},{"t":"365","lon":302.3,"lat":48.5,"a":22},{"t":"370","lon":249.3,"lat":36,"a":-42},{"t":"370","lon":303.3,"lat":2.2,"a":38},{"t":"375","lon":332.3,"lat":-21.9,"a":-12},{"t":"380","lon":323.7,"lat":-35.1,"a":-20},{"t":"385","lon":302,"lat":-53.5,"a":-62},{"t":"390","lon":330.7,"lat":-52.7,"a":-33},{"t":"400","lon":313,"lat":-75.4,"a":-30},{"t":"405","lon":343.3,"lat":-76.4,"a":-5},{"t":"370","lon":267,"lat":-39.3,"a":-45},{"t":"365","lon":160,"lat":-25.2,"a":-85},{"t":"365","lon":239,"lat":-29.2,"a":85},{"t":"360","lon":153.7,"lat":-45,"a":-15},{"t":"360","lon":208.7,"lat":-43.2,"a":8},{"t":"355","lon":181,"lat":-49.3,"a":0},{"t":"340","lon":194,"lat":-62.6,"a":12},{"t":"335","lon":156.3,"lat":-71.8,"a":-32},{"t":"345","lon":123.7,"lat":-77.4,"a":82},{"t":"365","lon":117,"lat":-47,"a":-35},{"t":"380","lon":21.7,"lat":-31.9,"a":22},{"t":"375","lon":57,"lat":-36.3,"a":42},{"t":"370","lon":84.3,"lat":-41.2,"a":52},{"t":"390","lon":17.3,"lat":-49.7,"a":30},{"t":"385","lon":45.3,"lat":-54.1,"a":62},{"t":"395","lon":17.7,"lat":-65.7,"a":22}
],
"ylabels":[{"t":"80","lat":80,"lon":-8.3},{"t":"60","lat":60,"lon":-8.3},{"t":"40","lat":40,"lon":-8.3},{"t":"20","lat":20,"lon":-8.3},{"t":"0","lat":0,"lon":-6.7},{"t":"-20","lat":-20,"lon":-12.7},{"t":"-40","lat":-40,"lon":-12.7},{"t":"-60","lat":-60,"lon":-12.7},{"t":"-80","lat":-80,"lon":-12.7}],
"xticks":[{"lon":0,"top":-87.5,"bot":87.5,"T":87.5,"B":-87.5},{"lon":360,"top":-87.5,"bot":87.5,"T":87.5,"B":-87.5},{"lon":7.5,"top":85.3,"bot":-85.3,"T":87.5,"B":-87.5},{"lon":15,"top":85.3,"bot":-85.3,"T":87.5,"B":-87.5},{"lon":22.5,"top":85.3,"bot":-85.3,"T":87.5,"B":-87.5},{"lon":30,"top":83,"bot":-83,"T":87.5,"B":-87.5},{"lon":37.5,"top":85.3,"bot":-85.3,"T":87.5,"B":-87.5},{"lon":45,"top":85.3,"bot":-85.3,"T":87.5,"B":-87.5},{"lon":52.5,"top":85.3,"bot":-85.3,"T":87.5,"B":-87.5},{"lon":60,"top":83,"bot":-83,"T":87.5,"B":-87.5},{"lon":67.5,"top":85.3,"bot":-85.3,"T":87.5,"B":-87.5},{"lon":75,"top":85.3,"bot":-85.3,"T":87.5,"B":-87.5},{"lon":82.5,"top":85.3,"bot":-85.3,"T":87.5,"B":-87.5},{"lon":90,"top":83,"bot":-83,"T":87.5,"B":-87.5},{"lon":97.5,"top":85.3,"bot":-85.3,"T":87.5,"B":-87.5},{"lon":105,"top":85.3,"bot":-85.3,"T":87.5,"B":-87.5},{"lon":112.5,"top":85.3,"bot":-85.3,"T":87.5,"B":-87.5},{"lon":120,"top":83,"bot":-83,"T":87.5,"B":-87.5},{"lon":127.5,"top":85.3,"bot":-85.3,"T":87.5,"B":-87.5},{"lon":135,"top":85.3,"bot":-85.3,"T":87.5,"B":-87.5},{"lon":142.5,"top":85.3,"bot":-85.3,"T":87.5,"B":-87.5},{"lon":150,"top":83,"bot":-83,"T":87.5,"B":-87.5},{"lon":157.5,"top":85.3,"bot":-85.3,"T":87.5,"B":-87.5},{"lon":165,"top":85.3,"bot":-85.3,"T":87.5,"B":-87.5},{"lon":172.5,"top":85.3,"bot":-85.3,"T":87.5,"B":-87.5},{"lon":180,"top":83,"bot":-83,"T":87.5,"B":-87.5},{"lon":187.5,"top":85.3,"bot":-85.3,"T":87.5,"B":-87.5},{"lon":195,"top":85.3,"bot":-85.3,"T":87.5,"B":-87.5},{"lon":202.5,"top":85.3,"bot":-85.3,"T":87.5,"B":-87.5},{"lon":210,"top":83,"bot":-83,"T":87.5,"B":-87.5},{"lon":217.5,"top":85.3,"bot":-85.3,"T":87.5,"B":-87.5},{"lon":225,"top":85.3,"bot":-85.3,"T":87.5,"B":-87.5},{"lon":232.5,"top":85.3,"bot":-85.3,"T":87.5,"B":-87.5},{"lon":240,"top":83,"bot":-83,"T":87.5,"B":-87.5},{"lon":247.5,"top":85.3,"bot":-85.3,"T":87.5,"B":-87.5},{"lon":255,"top":85.3,"bot":-85.3,"T":87.5,"B":-87.5},{"lon":262.5,"top":85.3,"bot":-85.3,"T":87.5,"B":-87.5},{"lon":270,"top":83,"bot":-83,"T":87.5,"B":-87.5},{"lon":277.5,"top":85.3,"bot":-85.3,"T":87.5,"B":-87.5},{"lon":285,"top":85.3,"bot":-85.3,"T":87.5,"B":-87.5},{"lon":292.5,"top":85.3,"bot":-85.3,"T":87.5,"B":-87.5},{"lon":300,"top":83,"bot":-83,"T":87.5,"B":-87.5},{"lon":307.5,"top":85.3,"bot":-85.3,"T":87.5,"B":-87.5},{"lon":315,"top":85.3,"bot":-85.3,"T":87.5,"B":-87.5},{"lon":322.5,"top":85.3,"bot":-85.3,"T":87.5,"B":-87.5},{"lon":330,"top":83,"bot":-83,"T":87.5,"B":-87.5},{"lon":337.5,"top":85.3,"bot":-85.3,"T":87.5,"B":-87.5},{"lon":345,"top":85.3,"bot":-85.3,"T":87.5,"B":-87.5},{"lon":352.5,"top":85.3,"bot":-85.3,"T":87.5,"B":-87.5}],
"yticks":[{"lat":87.5,"l":360,"r":0,"L":0,"R":360},{"lat":-87.5,"l":360,"r":0,"L":0,"R":360},{"lat":-80,"l":4.7,"r":355.3,"L":0,"R":360},{"lat":-70,"l":3.3,"r":356.7,"L":0,"R":360},{"lat":-60,"l":4.7,"r":355.3,"L":0,"R":360},{"lat":-50,"l":3.3,"r":356.7,"L":0,"R":360},{"lat":-40,"l":4.7,"r":355.3,"L":0,"R":360},{"lat":-30,"l":3.3,"r":356.7,"L":0,"R":360},{"lat":-20,"l":4.7,"r":355.3,"L":0,"R":360},{"lat":-10,"l":3.3,"r":356.7,"L":0,"R":360},{"lat":0,"l":4.7,"r":355.3,"L":0,"R":360},{"lat":10,"l":3.3,"r":356.7,"L":0,"R":360},{"lat":20,"l":4.7,"r":355.3,"L":0,"R":360},{"lat":30,"l":3.3,"r":356.7,"L":0,"R":360},{"lat":40,"l":4.7,"r":355.3,"L":0,"R":360},{"lat":50,"l":3.3,"r":356.7,"L":0,"R":360},{"lat":60,"l":4.7,"r":355.3,"L":0,"R":360},{"lat":70,"l":3.3,"r":356.7,"L":0,"R":360},{"lat":80,"l":4.7,"r":355.3,"L":0,"R":360}]
},
"layer":[
{"data":{"name":"poly"},"transform":[{"window":[{"op":"row_number","as":"i"}]}],"mark":{"type":"line","clip":true,"strokeWidth":0,"interpolate":"linear"},
"encoding":{
"x":{"field":"lon","type":"quantitative","scale":{"domain":[0,360],"nice":false,"zero":false},"axis":null},
"y":{"field":"lat","type":"quantitative","scale":{"domain":[-87.5,87.5],"nice":false,"zero":false},"axis":{"values":[-80,-60,-40,-20,0,20,40,60,80],"labels":false,"ticks":false,"domain":false,"grid":false,"title":"LATITUDE (DEG)","titleFont":"Liberation Sans","titleFontSize":33,"titleFontWeight":"normal","titleColor":"#111","titlePadding":104}},
"order":{"field":"i","type":"quantitative"},
"fill":{"field":"p","type":"nominal","legend":null,"scale":{"domain":["S365","S360","S355","S350","S345","S340","S335","BG","BY","SW370","SW375","SW380","SW385","SW390","SW395","SW400","SW405","SW410","SE370","SE375","SE380","SE385","SE390","SE395","SE400","SE405","SE410","N370","N375","N380","N385","N390","N395","N400","NW365","NW360","NW355","NW350","NW345","NW340","NW335","NW330","NE365","NE360","NE355","NE350","NE345","NE340","NE335"],"range":["#22ff00","#00ff00","#00ff66","#00ffcc","#00ffff","#00ccff","#0066ff","#22ff00","#e6ff00","#e6ff00","#fff500","#ffa500","#ff3300","#ff0000","#ff0033","#ff0099","#ff00ff","#dd00ff","#e6ff00","#fff500","#ffa500","#ff3300","#ff0000","#ff0033","#ff0099","#ff00ff","#dd00ff","#e6ff00","#fff500","#ffa500","#ff3300","#ff0000","#ff0033","#ff0099","#22ff00","#00ff00","#00ff66","#00ffcc","#00ffff","#00ccff","#0066ff","#0022ff","#22ff00","#00ff00","#00ff66","#00ffcc","#00ffff","#00ccff","#0066ff"]}}
}},
{"data":{"name":"poly"},"transform":[{"window":[{"op":"row_number","as":"i"}]},{"filter":"isValid(datum.s)"}],"mark":{"type":"line","clip":true,"stroke":"#111","strokeWidth":1.3},
"encoding":{"x":{"field":"lon","type":"quantitative"},"y":{"field":"lat","type":"quantitative"},"detail":{"field":"s","type":"nominal"},"order":{"field":"i","type":"quantitative"}}},
{"data":{"name":"xticks"},"mark":{"type":"rule","stroke":"#222","strokeWidth":1.5},"encoding":{"x":{"field":"lon","type":"quantitative"},"y":{"field":"T","type":"quantitative"},"y2":{"field":"top"}}},
{"data":{"name":"xticks"},"mark":{"type":"rule","stroke":"#222","strokeWidth":1.5},"encoding":{"x":{"field":"lon","type":"quantitative"},"y":{"field":"B","type":"quantitative"},"y2":{"field":"bot"}}},
{"data":{"name":"yticks"},"mark":{"type":"rule","stroke":"#222","strokeWidth":1.5},"encoding":{"y":{"field":"lat","type":"quantitative"},"x":{"field":"L","type":"quantitative"},"x2":{"field":"l"}}},
{"data":{"name":"yticks"},"mark":{"type":"rule","stroke":"#222","strokeWidth":1.5},"encoding":{"y":{"field":"lat","type":"quantitative"},"x":{"field":"R","type":"quantitative"},"x2":{"field":"r"}}},
{"data":{"name":"labels"},"mark":{"type":"text","font":"Liberation Serif","fontSize":33,"color":"#111","align":"center","baseline":"middle"},"encoding":{"x":{"field":"lon","type":"quantitative"},"y":{"field":"lat","type":"quantitative"},"text":{"field":"t"},"angle":{"field":"a","type":"quantitative","scale":null}}},
{"data":{"name":"ylabels"},"mark":{"type":"text","font":"Liberation Sans","fontSize":32,"color":"#111","align":"right","baseline":"middle"},"encoding":{"x":{"field":"lon","type":"quantitative"},"y":{"field":"lat","type":"quantitative"},"text":{"field":"t"}}}
]}
